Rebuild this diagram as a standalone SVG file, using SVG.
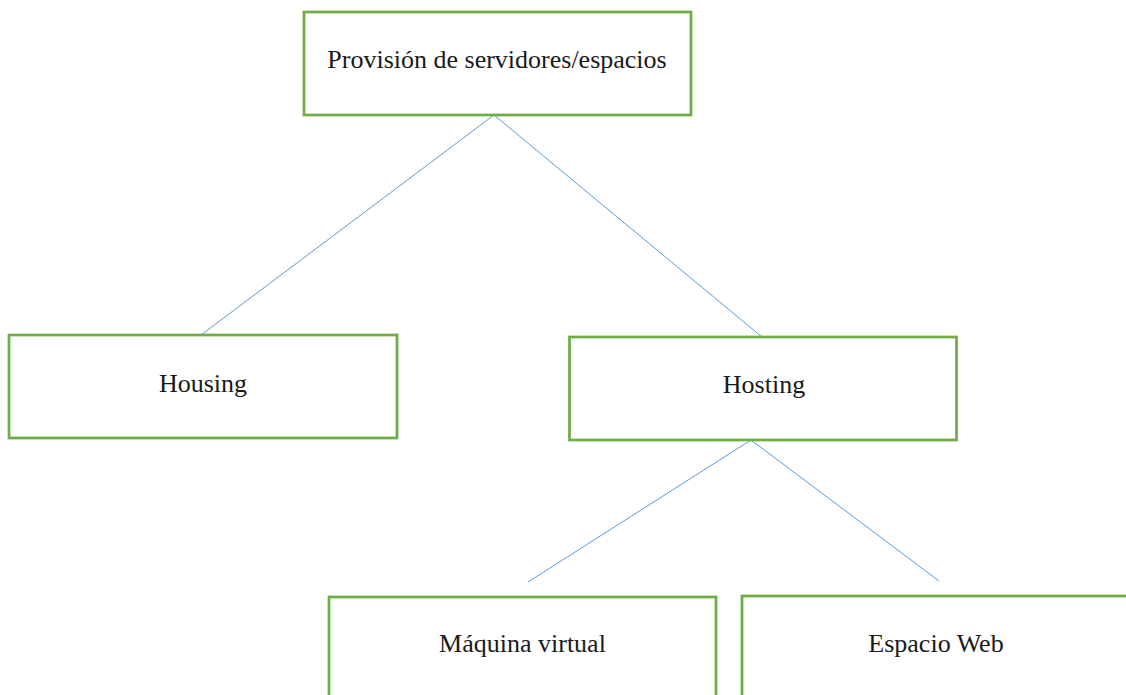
<svg xmlns="http://www.w3.org/2000/svg" width="1126" height="695" viewBox="0 0 1126 695">
<style>
.box{fill:#fff;stroke:#70AD47;stroke-width:2.75}
.lbl{font-family:"Liberation Serif","Times New Roman",serif;font-size:26px;fill:#1a1a1a;text-anchor:middle}
.edge{stroke:#5B9BD5;stroke-width:1;fill:none}
</style>
<rect width="1126" height="695" fill="#fff"/>
<g id="connectors">
<line class="edge" x1="494" y1="115" x2="201" y2="335"/>
<line class="edge" x1="494" y1="115" x2="762" y2="337"/>
<line class="edge" x1="751" y1="440" x2="528" y2="582"/>
<line class="edge" x1="751" y1="440" x2="939" y2="581"/>
</g>
<g id="root">
<rect class="box" x="304" y="12" width="387" height="103"/>
<text class="lbl" x="497" y="68">Provisión de servidores/espacios</text>
</g>
<g id="housing">
<rect class="box" x="9" y="335" width="388" height="103"/>
<text class="lbl" x="203" y="392">Housing</text>
</g>
<g id="hosting">
<rect class="box" x="569.5" y="337" width="387" height="103"/>
<text class="lbl" x="764" y="393">Hosting</text>
</g>
<g id="maquina">
<rect class="box" x="329" y="597" width="387" height="103"/>
<text class="lbl" x="522.5" y="652">Máquina virtual</text>
</g>
<g id="espacio">
<rect class="box" x="742" y="596" width="387" height="103"/>
<text class="lbl" x="936" y="652">Espacio Web</text>
</g>
</svg>
